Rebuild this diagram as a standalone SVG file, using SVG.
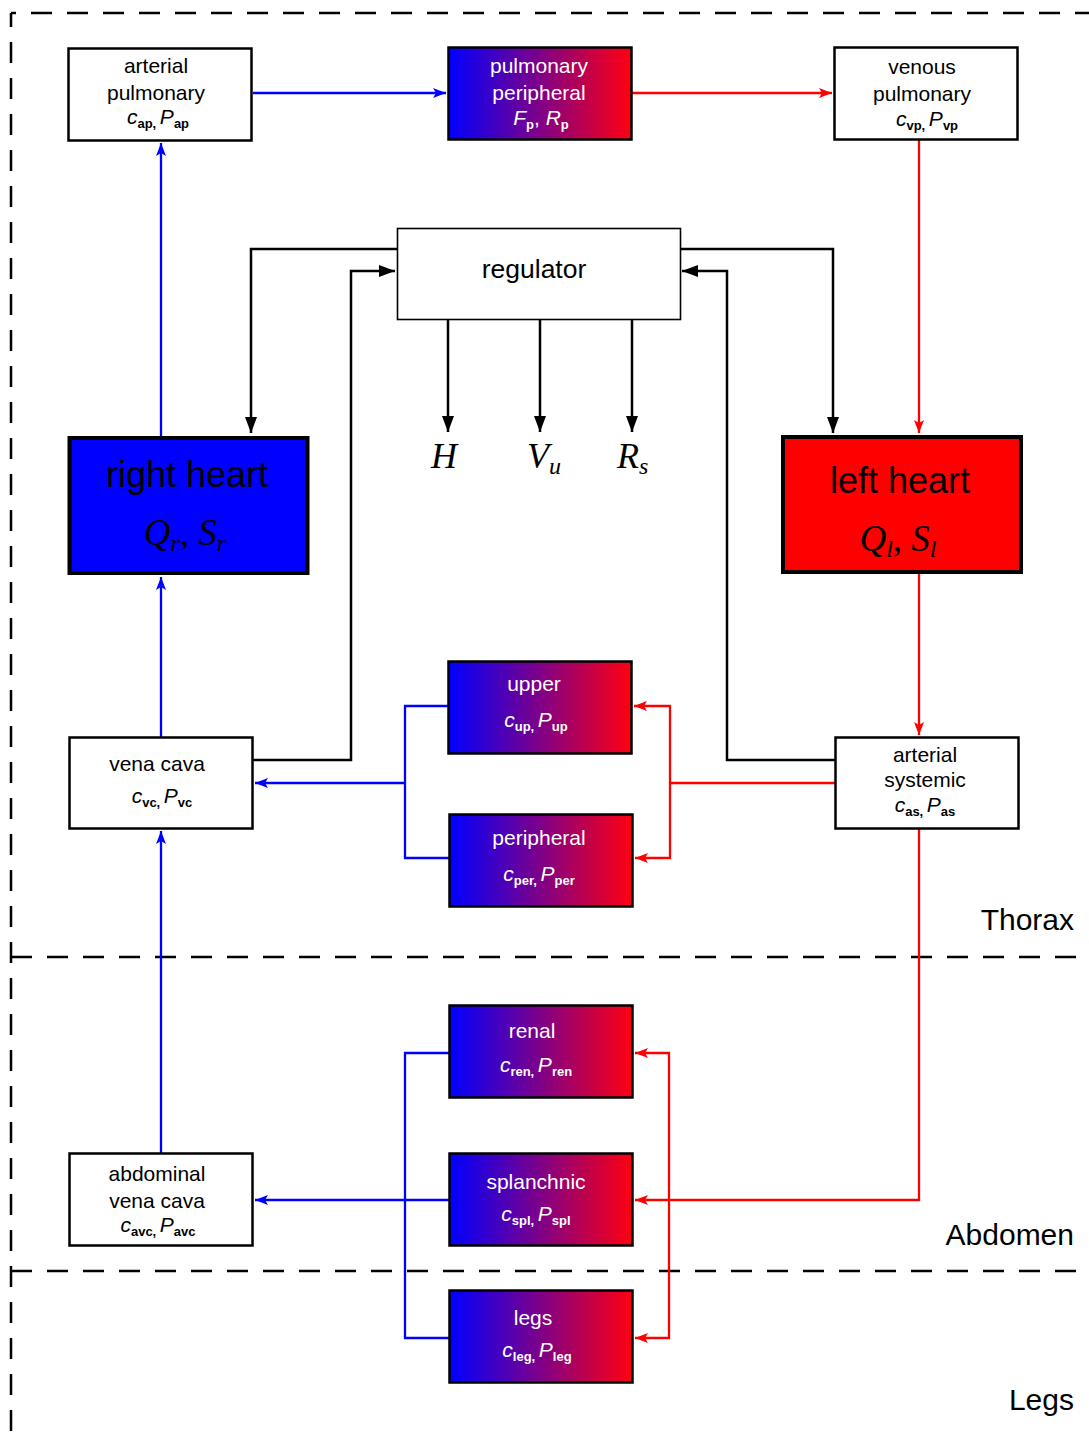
<svg xmlns="http://www.w3.org/2000/svg" width="1089" height="1434" viewBox="0 0 1089 1434">
<style>
.box{fill:#fff;stroke:#000;stroke-width:2.5}
.grad{fill:url(#bg);stroke:#000;stroke-width:2.5}
.t{font-family:"Liberation Sans",Arial,sans-serif;font-size:21px;text-anchor:middle;fill:#000}
.w{fill:#fff}
.it{font-style:italic}
.sb{font-size:13px;font-weight:bold}
.m{font-family:"Liberation Serif","Times New Roman",serif;font-style:italic;fill:#000}
.dash{fill:none;stroke:#000;stroke-width:2.5;stroke-dasharray:21 15}
.cb{fill:none;stroke:#0000ff;stroke-width:2.3}
.cr{fill:none;stroke:#ff0000;stroke-width:2.3}
.ck{fill:none;stroke:#000;stroke-width:2.5}
.lbl{font-family:"Liberation Sans",Arial,sans-serif;font-size:30px;text-anchor:end;fill:#000}
</style>
<defs>
<linearGradient id="bg" x1="0" y1="0" x2="1" y2="0">
<stop offset="0" stop-color="#0000ff"/>
<stop offset="1" stop-color="#ff0010"/>
</linearGradient>
<marker id="ab" viewBox="0 0 13 10" refX="13" refY="5" markerWidth="13" markerHeight="10" markerUnits="userSpaceOnUse" orient="auto"><path d="M0,0 L13,5 L0,10 L3,5 z" fill="#0000ff"/></marker>
<marker id="ar" viewBox="0 0 13 10" refX="13" refY="5" markerWidth="13" markerHeight="10" markerUnits="userSpaceOnUse" orient="auto"><path d="M0,0 L13,5 L0,10 L3,5 z" fill="#ff0000"/></marker>
<marker id="ak" viewBox="0 0 16 12" refX="16" refY="6" markerWidth="16" markerHeight="12" markerUnits="userSpaceOnUse" orient="auto"><path d="M0,0 L16,6 L0,12 z" fill="#000"/></marker>
</defs>
<rect width="1089" height="1434" fill="#fff"/>

<g id="regions">
<path class="dash" d="M11,13 H1089" stroke-dashoffset="16"/>
<path class="dash" d="M11,13 V1434" stroke-dashoffset="7"/>
<path class="dash" d="M11,957 H1089"/>
<path class="dash" d="M11,1271 H1089"/>
<text class="lbl" x="1074" y="930">Thorax</text>
<text class="lbl" x="1074" y="1245">Abdomen</text>
<text class="lbl" x="1074" y="1410">Legs</text>
</g>

<g id="connectors">
<path class="cb" d="M253,93 H446" marker-end="url(#ab)"/>
<path class="cb" d="M161,436 V143" marker-end="url(#ab)"/>
<path class="cb" d="M161,737 V577" marker-end="url(#ab)"/>
<path class="cb" d="M161,1153 V831" marker-end="url(#ab)"/>
<path class="cb" d="M448,706 H405 V858 H449"/>
<path class="cb" d="M405,783 H255" marker-end="url(#ab)"/>
<path class="cb" d="M449,1053 H405 V1338 H449"/>
<path class="cb" d="M449,1200 H255" marker-end="url(#ab)"/>

<path class="cr" d="M632,93 H832" marker-end="url(#ar)"/>
<path class="cr" d="M919,140 V433" marker-end="url(#ar)"/>
<path class="cr" d="M919,574 V735" marker-end="url(#ar)"/>
<path class="cr" d="M835,783 H670"/>
<path class="cr" d="M670,783 V706 H634" marker-end="url(#ar)"/>
<path class="cr" d="M670,783 V858 H635" marker-end="url(#ar)"/>
<path class="cr" d="M919,829 V1200 H635" marker-end="url(#ar)"/>
<path class="cr" d="M669,1200 V1053 H635" marker-end="url(#ar)"/>
<path class="cr" d="M669,1200 V1338 H635" marker-end="url(#ar)"/>

<path class="ck" d="M397,249 H251 V433" marker-end="url(#ak)"/>
<path class="ck" d="M253,760 H351 V271 H395" marker-end="url(#ak)"/>
<path class="ck" d="M680,249 H833 V433" marker-end="url(#ak)"/>
<path class="ck" d="M835,760 H727 V271 H682" marker-end="url(#ak)"/>
<path class="ck" d="M448,319 V432" marker-end="url(#ak)"/>
<path class="ck" d="M540,319 V432" marker-end="url(#ak)"/>
<path class="ck" d="M632,319 V432" marker-end="url(#ak)"/>
</g>

<g id="arterial-pulmonary">
<rect class="box" x="68.5" y="48.5" width="183" height="92"/>
<text class="t" x="156" y="73">arterial</text>
<text class="t" x="156" y="100">pulmonary</text>
<text class="t" x="158" y="124"><tspan class="it">c</tspan><tspan class="sb" dy="4">ap, </tspan><tspan class="it" dy="-4">P</tspan><tspan class="sb" dy="4">ap</tspan></text>
</g>

<g id="pulmonary-peripheral">
<rect class="grad" x="448.5" y="47.5" width="183" height="92"/>
<text class="t w" x="539" y="73">pulmonary</text>
<text class="t w" x="539" y="100">peripheral</text>
<text class="t w" x="541" y="125"><tspan class="it">F</tspan><tspan class="sb" dy="4">p</tspan><tspan dy="-4">, </tspan><tspan class="it">R</tspan><tspan class="sb" dy="4">p</tspan></text>
</g>

<g id="venous-pulmonary">
<rect class="box" x="834.5" y="47.5" width="183" height="92"/>
<text class="t" x="922" y="74">venous</text>
<text class="t" x="922" y="101">pulmonary</text>
<text class="t" x="927" y="126"><tspan class="it">c</tspan><tspan class="sb" dy="4">vp, </tspan><tspan class="it" dy="-4">P</tspan><tspan class="sb" dy="4">vp</tspan></text>
</g>

<g id="regulator">
<rect x="397.5" y="228.5" width="283" height="91" fill="#fff" stroke="#000" stroke-width="1.6"/>
<text class="t" x="534" y="278" style="font-size:26.5px">regulator</text>
</g>

<g id="outputs">
<text class="m" x="431" y="468" font-size="36">H</text>
<text class="m" x="527" y="468" font-size="36">V<tspan font-size="24" dy="6">u</tspan></text>
<text class="m" x="617" y="468" font-size="36">R<tspan font-size="24" dy="6">s</tspan></text>
</g>

<g id="right-heart">
<rect x="69.5" y="438" width="238" height="135" fill="#0000ff" stroke="#000" stroke-width="4"/>
<text class="t" x="187" y="487" style="font-size:36px">right heart</text>
<text class="m" x="185" y="545" font-size="37" text-anchor="middle">Q<tspan font-size="24" dy="6">r</tspan><tspan font-style="normal" dy="-6">, </tspan>S<tspan font-size="24" dy="6">r</tspan></text>
</g>

<g id="left-heart">
<rect x="783" y="437" width="238" height="135" fill="#ff0000" stroke="#000" stroke-width="4"/>
<text class="t" x="900" y="493" style="font-size:36px">left heart</text>
<text class="m" x="898" y="551" font-size="37" text-anchor="middle">Q<tspan font-size="24" dy="6">l</tspan><tspan font-style="normal" dy="-6">, </tspan>S<tspan font-size="24" dy="6">l</tspan></text>
</g>

<g id="vena-cava">
<rect class="box" x="69.5" y="737.5" width="183" height="91"/>
<text class="t" x="157" y="771">vena cava</text>
<text class="t" x="162" y="803"><tspan class="it">c</tspan><tspan class="sb" dy="4">vc, </tspan><tspan class="it" dy="-4">P</tspan><tspan class="sb" dy="4">vc</tspan></text>
</g>

<g id="upper">
<rect class="grad" x="448.5" y="661.5" width="183" height="92"/>
<text class="t w" x="534" y="691">upper</text>
<text class="t w" x="536" y="727"><tspan class="it">c</tspan><tspan class="sb" dy="4">up, </tspan><tspan class="it" dy="-4">P</tspan><tspan class="sb" dy="4">up</tspan></text>
</g>

<g id="peripheral">
<rect class="grad" x="449.5" y="814.5" width="183" height="92"/>
<text class="t w" x="539" y="845">peripheral</text>
<text class="t w" x="539" y="881"><tspan class="it">c</tspan><tspan class="sb" dy="4">per, </tspan><tspan class="it" dy="-4">P</tspan><tspan class="sb" dy="4">per</tspan></text>
</g>

<g id="arterial-systemic">
<rect class="box" x="835.5" y="737.5" width="183" height="91"/>
<text class="t" x="925" y="762">arterial</text>
<text class="t" x="925" y="787">systemic</text>
<text class="t" x="925" y="812"><tspan class="it">c</tspan><tspan class="sb" dy="4">as, </tspan><tspan class="it" dy="-4">P</tspan><tspan class="sb" dy="4">as</tspan></text>
</g>

<g id="renal">
<rect class="grad" x="449.5" y="1005.5" width="183" height="92"/>
<text class="t w" x="532" y="1038">renal</text>
<text class="t w" x="536" y="1072"><tspan class="it">c</tspan><tspan class="sb" dy="4">ren, </tspan><tspan class="it" dy="-4">P</tspan><tspan class="sb" dy="4">ren</tspan></text>
</g>

<g id="splanchnic">
<rect class="grad" x="449.5" y="1153.5" width="183" height="92"/>
<text class="t w" x="536" y="1189">splanchnic</text>
<text class="t w" x="536" y="1221"><tspan class="it">c</tspan><tspan class="sb" dy="4">spl, </tspan><tspan class="it" dy="-4">P</tspan><tspan class="sb" dy="4">spl</tspan></text>
</g>

<g id="legs">
<rect class="grad" x="449.5" y="1290.5" width="183" height="92"/>
<text class="t w" x="533" y="1325">legs</text>
<text class="t w" x="537" y="1357"><tspan class="it">c</tspan><tspan class="sb" dy="4">leg, </tspan><tspan class="it" dy="-4">P</tspan><tspan class="sb" dy="4">leg</tspan></text>
</g>

<g id="abdominal-vena-cava">
<rect class="box" x="69.5" y="1153.5" width="183" height="92"/>
<text class="t" x="157" y="1181">abdominal</text>
<text class="t" x="157" y="1208">vena cava</text>
<text class="t" x="158" y="1232"><tspan class="it">c</tspan><tspan class="sb" dy="4">avc, </tspan><tspan class="it" dy="-4">P</tspan><tspan class="sb" dy="4">avc</tspan></text>
</g>
</svg>
